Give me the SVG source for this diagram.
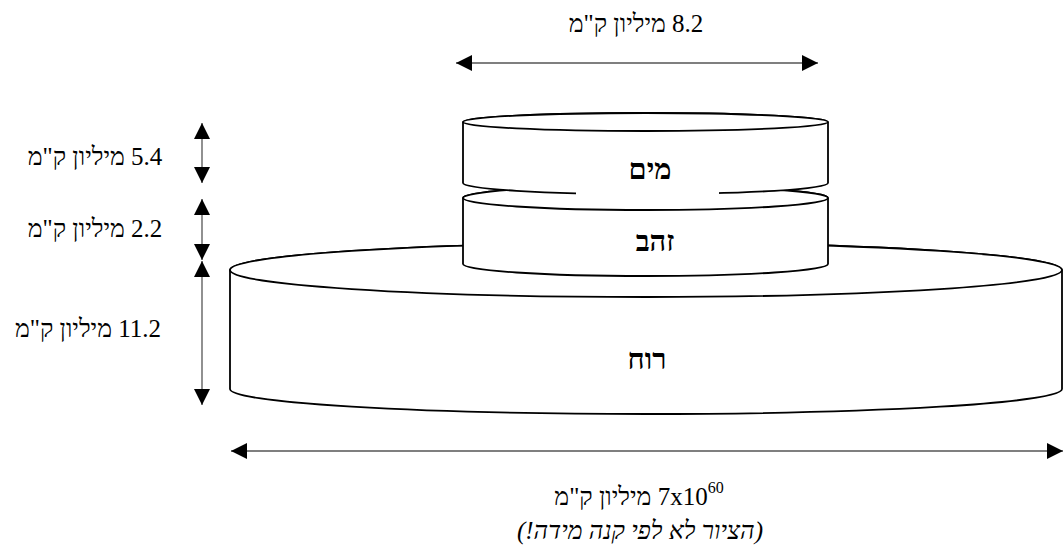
<svg xmlns="http://www.w3.org/2000/svg" width="1064" height="548" viewBox="0 0 1064 548">
<style>
.cyl{fill:#fff;stroke:#000;stroke-width:1.8}
.lbl{font-family:"Liberation Serif","DejaVu Serif",serif;font-size:25px;fill:#000;direction:rtl;unicode-bidi:embed}
.name{font-family:"Liberation Serif","DejaVu Serif",serif;font-size:29px;font-weight:bold;fill:#000;direction:rtl;unicode-bidi:embed}
.dim{stroke:#555;stroke-width:1.3;fill:none;marker-start:url(#ah);marker-end:url(#ah)}
</style>
<defs>
<marker id="ah" markerUnits="userSpaceOnUse" markerWidth="16" markerHeight="16" refX="16" refY="8" orient="auto-start-reverse" viewBox="0 0 16 16">
<path d="M0,0 L16,8 L0,16 Z" fill="#000"/>
</marker>
</defs>
<rect width="1064" height="548" fill="#fff"/>

<g id="ruach">
<path class="cyl" d="M230,270 L230,389 A416,25 0 0 0 1062,389 L1062,270 A416,27 0 0 0 230,270 Z"/>
<ellipse class="cyl" cx="646" cy="270" rx="416" ry="27"/>
<text class="name" x="647" y="369" text-anchor="middle">רוח</text>
</g>

<g id="zahav">
<path class="cyl" d="M463,198 L463,264 A182.5,12 0 0 0 828,264 L828,198 A182.5,12 0 0 0 463,198 Z"/>
<ellipse class="cyl" cx="645.5" cy="198" rx="182.5" ry="12"/>
<text class="name" x="655" y="251" text-anchor="middle">זהב</text>
</g>

<g id="mayim">
<path class="cyl" d="M463,122 L463,183 A182.5,11 0 0 0 828,183 L828,122 A182.5,9 0 0 0 463,122 Z"/>
<ellipse class="cyl" cx="645.5" cy="122" rx="182.5" ry="9"/>
<rect x="576" y="186" width="143" height="20" fill="#fff"/>
<text class="name" x="650" y="179" text-anchor="middle">מים</text>
</g>

<g id="connectors">
<line class="dim" x1="456" y1="63" x2="818" y2="63"/>
<line class="dim" x1="202" y1="123" x2="202" y2="183"/>
<line class="dim" x1="202" y1="199" x2="202" y2="260"/>
<line class="dim" x1="202" y1="261" x2="202" y2="405"/>
<line class="dim" x1="231" y1="451" x2="1063" y2="451"/>
</g>

<g id="labels">
<text class="lbl" x="636" y="32" text-anchor="middle" font-size="26">8.2 מיליון ק"מ</text>
<text class="lbl" x="95" y="165" text-anchor="middle">5.4 מיליון ק"מ</text>
<text class="lbl" x="95" y="237" text-anchor="middle">2.2 מיליון ק"מ</text>
<text class="lbl" x="88" y="337" text-anchor="middle">11.2 מיליון ק"מ</text>
<text class="lbl" x="639" y="505" text-anchor="middle" font-size="26">7x10<tspan font-size="16" dy="-12">60</tspan><tspan dy="12"> מיליון ק"מ</tspan></text>
<text class="lbl" x="640" y="539" text-anchor="middle" font-style="italic" font-size="21">(הציור לא לפי קנה מידה!)</text>
</g>
</svg>
